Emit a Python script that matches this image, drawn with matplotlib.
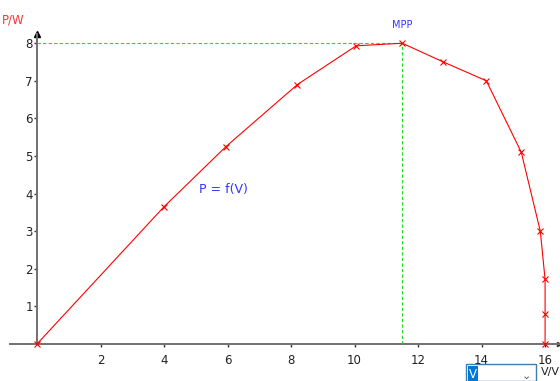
import matplotlib
matplotlib.use("Agg")
import matplotlib.pyplot as plt
from matplotlib.patches import Rectangle

plt.rcParams.update({"font.family": ["DejaVu Sans"], "font.size": 8.5})

# P-V curve of the panel
voltage = [0, 4.0, 5.95, 8.2, 10.05, 11.5, 12.8, 14.15, 15.25, 15.85, 16.0, 16.0, 16.0]
power = [0, 3.65, 5.25, 6.9, 7.93, 8.0, 7.5, 7.0, 5.1, 3.0, 1.72, 0.8, 0]
mpp_v = 11.5
mpp_p = 8.0
x_ticks = [2, 4, 6, 8, 10, 12, 14, 16]
y_ticks = [1, 2, 3, 4, 5, 6, 7, 8]

fig = plt.figure(figsize=(5.6, 3.81), dpi=100)
ax = fig.add_axes([0, 0, 1, 1])
ax.set_xlim(-1.165, 16.47)
ax.set_ylim(-0.984, 9.149)

for s in ["top", "right"]:
    ax.spines[s].set_visible(False)
ax.spines["left"].set_position("zero")
ax.spines["bottom"].set_position("zero")
ax.spines["left"].set_bounds(0, 8.25)
ax.spines["bottom"].set_bounds(-0.85, 16.45)
for s in ["left", "bottom"]:
    ax.spines[s].set_color("#707070")
    ax.spines[s].set_linewidth(1.4)

ax.set_xticks(x_ticks)
ax.set_yticks(y_ticks)
ax.tick_params(axis="both", direction="out", length=2, width=1, color="#333333",
               labelcolor="#222222", labelsize=8.5)
ax.tick_params(axis="x", pad=5)
ax.tick_params(axis="y", pad=1)

# axis arrow heads
ax.plot([0], [8.25], marker="^", color="black", markersize=4, clip_on=False)
ax.plot([16.45], [0], marker=">", color="#333333", markersize=3, clip_on=False)

# guide lines to the maximum power point
ax.plot([0, mpp_v], [mpp_p, mpp_p], color="#22dd22", lw=0.8, ls=(0, (3, 2)))
ax.plot([mpp_v, mpp_v], [0, mpp_p], color="#22dd22", lw=0.8, ls=(0, (3, 2)))

ax.plot(voltage, power, color="red", lw=0.8, marker="x", markersize=5,
        markeredgewidth=0.8, clip_on=False, zorder=3)

ax.text(mpp_v, 8.35, "MPP", color="#3333ff", fontsize=7, ha="center", va="bottom")
ax.text(5.1, 4.1, "P = f(V)", color="#3333ff", fontsize=9, ha="left", va="center")

fig.text(2 / 560, 1 - 20 / 381, "P/W", color="#ff3333", fontsize=8.5, ha="left", va="center")
fig.text(541 / 560, 1 - 372 / 381, "V/V", color="#222222", fontsize=8, ha="left", va="center")

# unit selector box
fig.patches.append(Rectangle((466 / 560, 0), 70 / 560, 17 / 381, transform=fig.transFigure,
                             facecolor="white", edgecolor="#3c7fb1", lw=1))
fig.patches.append(Rectangle((468 / 560, 0), 10 / 560, 15 / 381, transform=fig.transFigure,
                             facecolor="#0078d7", edgecolor="none"))
fig.text(473 / 560, 1 - 374 / 381, "V", color="white", fontsize=8.5, ha="center", va="center")
fig.text(526 / 560, 1 - 376 / 381, "\u2304", color="#555555", fontsize=8, ha="center", va="center")

fig.savefig("out.png", dpi=100)
